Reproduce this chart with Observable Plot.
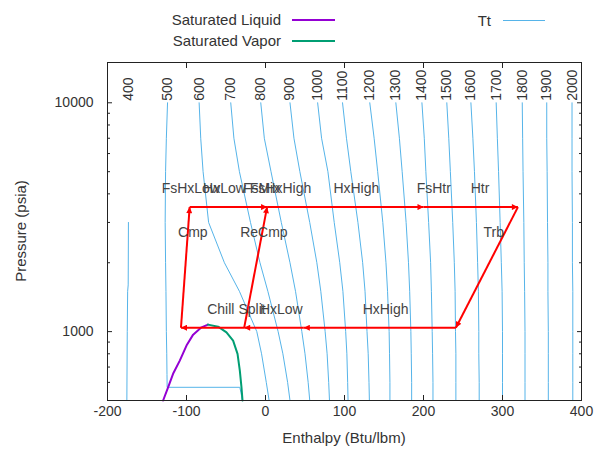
<!DOCTYPE html>
<html><head><meta charset="utf-8">
<script src="https://cdn.jsdelivr.net/npm/d3@7"></script>
<script src="https://cdn.jsdelivr.net/npm/@observablehq/plot@0.6"></script>
<style>
html,body{margin:0;padding:0;background:#fff;}
body{font-family:"Liberation Sans",Arial,sans-serif;color:#333;}
#wrap{position:relative;width:594px;height:451px;overflow:hidden;}
#legend{position:relative;width:594px;height:50px;font-size:15px;}
.lg{position:absolute;white-space:nowrap;line-height:16px;}
.sw{position:absolute;height:0;border-top:2px solid;}
#chart{position:absolute;left:0;top:50px;}
.ttl{position:absolute;font-size:15px;white-space:nowrap;}
</style></head>
<body>
<div id="wrap">
  <div id="legend"></div>
  <div id="chart"></div>
  <div class="ttl" id="xt"></div>
  <div class="ttl" id="yt"></div>
</div>
<script>
// ---------- data ----------
const xTicks = [-200, -100, 0, 100, 200, 300, 400];
const yMajor = [1000, 10000];
const yMinor = [600, 700, 800, 900, 2000, 3000, 4000, 5000, 6000, 7000, 8000, 9000];

// isotherms (deg R) : enthalpy at common pressures (psia)
const isoP = [500, 600, 800, 1000, 1500, 2000, 3000, 5000, 7000, 10000];
const isoT = [600, 700, 800, 900, 1000, 1100, 1200, 1300, 1400, 1500, 1600, 1700, 1800, 1900, 2000];
const isoH = [
  [4.6, 1, -5, -11, -33, -52, -72, -79, -82, -84],
  [31, 28, 22, 16, 3, -7, -19, -33, -40, -44],
  [56, 54, 50, 46, 38, 31, 20, 7, -1.5, -6],
  [81, 80, 78, 75.5, 70, 65, 56, 43.5, 36, 31],
  [104.5, 104, 103, 101.5, 98, 94, 87, 79, 71, 66],
  [131.5, 131, 130, 128.5, 126, 123, 117, 108, 102.5, 97.5],
  [157.5, 157.5, 157, 156.5, 154.5, 152.5, 148.5, 142, 137.5, 132],
  [185, 185, 184.5, 184, 182.5, 181, 178, 173, 169.5, 165],
  [212, 212, 211.5, 211, 210, 209, 206.5, 203, 201, 198],
  [241, 241, 241, 240.5, 240, 239, 237, 234, 232, 229.5],
  [270.5, 270.5, 270, 270, 269.5, 268.5, 267, 264.5, 262.5, 260],
  [300, 300, 300, 300, 299.5, 298.5, 297, 295, 293.5, 292],
  [328.5, 328.5, 328.5, 328.5, 328, 327.5, 327, 326, 325.5, 325],
  [358, 358, 358, 358, 357.5, 357.5, 357, 356.5, 356, 356],
  [389, 389, 389, 389, 389, 388.5, 388.5, 388, 388, 388]
];
// 400 R (liquid only, ends at 3000 psia)
const iso400P = [500, 1000, 1500, 1600, 3000];
const iso400H = [-175.5, -175, -174.5, -173.8, -173.5];
// 500 R (liquid, two-phase plateau, vapour)
const iso500P = [10000, 7000, 5000, 3000, 2000, 1500, 1000, 800, 650, 571, 571, 540, 500];
const iso500H = [-124, -125.5, -126.5, -127, -126.5, -126, -125.5, -125, -124.7, -124.5, -32.5, -31, -29.3];

// saturation dome
const satLiqH = [-129.6, -123.3, -117.0, -108.5, -100.0, -91.6, -81.0, -72.8];
const satLiqP = [500, 571, 654, 747, 869, 970, 1044, 1073];
const satVapH = [-72.8, -60.0, -49.4, -41.0, -35.4, -32.5, -30.4, -29.1];
const satVapP = [1073, 1051, 993, 913, 799, 676, 571, 500];

// cycle state points
const stateH = [-107, -96, -27, 2, 200, 319.5, 241, 48.5];
const stateP = [1040, 3500, 1040, 3500, 3500, 3500, 1040, 1040];
const segFrom = [2, 0, 1, 2, 3, 4, 5, 6, 7];
const segTo   = [0, 1, 3, 3, 4, 5, 6, 7, 2];

// component labels
const compName = ["FsHxLow", "HxLow", "FsMix", "FsHxHigh", "HxHigh", "FsHtr", "Htr", "Cmp", "ReCmp", "Trb", "Chill", "Split", "HxLow", "HxHigh"];
const compH = [-94.5, -52, -5, 19, 115, 213, 271.5, -92, -2, 289, -56.6, -17, 20, 152];
const compP = [4200, 4200, 4200, 4200, 4200, 4200, 4200, 2700, 2700, 2700, 1250, 1250, 1250, 1250];
const labelP = 10000;

// ---------- build tables ----------
const isoRows = [];
isoT.forEach((t, i) => isoP.forEach((p, j) => isoRows.push({t, h: isoH[i][j], p})));
iso400P.forEach((p, j) => isoRows.push({t: 400, h: iso400H[j], p}));
iso500P.forEach((p, j) => isoRows.push({t: 500, h: iso500H[j], p}));
const isoLabels = [{t: 400, h: iso400H[iso400H.length - 1]}, {t: 500, h: iso500H[0]}]
  .concat(isoT.map((t, i) => ({t, h: isoH[i][isoH[i].length - 1]})));
const liq = satLiqH.map((h, i) => ({h, p: satLiqP[i]}));
const vap = satVapH.map((h, i) => ({h, p: satVapP[i]}));
const segs = segFrom.map((a, i) => ({x1: stateH[a], y1: stateP[a], x2: stateH[segTo[i]], y2: stateP[segTo[i]]}));
const comps = compName.map((n, i) => ({n, h: compH[i], p: compP[i]}));

const C_LIQ = "#9400d3", C_VAP = "#009e73", C_ISO = "#56b4e9", C_TXT = "#333", C_RED = "#ff0000";
const blank = () => "";
const plain = d => String(d);

const chart = Plot.plot({
  width: 594, height: 401,
  marginLeft: 107, marginRight: 13, marginTop: 12, marginBottom: 51,
  x: {domain: [-200, 400], label: null},
  y: {type: "log", domain: [500, 15000], label: null},
  style: {fontFamily: "Liberation Sans, Arial, sans-serif", fontSize: "14px", color: C_TXT, background: "white"},
  marks: [
    Plot.line(isoRows, {x: "h", y: "p", z: "t", stroke: C_ISO, strokeWidth: 1}),
    Plot.text(isoLabels, {x: "h", y: () => labelP, text: d => String(d.t), rotate: -90, textAnchor: "start", dy: -2, fill: C_TXT, fontSize: 14}),
    Plot.line(liq, {x: "h", y: "p", stroke: C_LIQ, strokeWidth: 2}),
    Plot.line(vap, {x: "h", y: "p", stroke: C_VAP, strokeWidth: 2}),
    Plot.link(segs, {x1: "x1", y1: "y1", x2: "x2", y2: "y2", stroke: C_RED, strokeWidth: 2}),
    Plot.text(comps, {x: "h", y: "p", text: "n", fill: "#444", fontSize: 14}),
    Plot.frame({stroke: "#222"}),
    // x axis labels + inward ticks (bottom and mirrored top)
    Plot.axisX({ticks: xTicks, tickSize: 0, tickPadding: 6, tickFormat: plain, fill: C_TXT}),
    Plot.axisX({ticks: xTicks, tickSize: 5, dy: -5, tickFormat: blank, stroke: "#222"}),
    Plot.axisX({anchor: "top", ticks: xTicks, tickSize: 5, dy: 5, tickFormat: blank, stroke: "#222"}),
    // y axis labels + inward ticks (left and mirrored right)
    Plot.axisY({ticks: yMajor, tickSize: 0, tickPadding: 14, tickFormat: plain, fill: C_TXT}),
    Plot.axisY({ticks: yMajor, tickSize: 5, dx: 5, tickFormat: blank, stroke: "#222"}),
    Plot.axisY({ticks: yMinor, tickSize: 3, dx: 3, tickFormat: blank, stroke: "#222"}),
    Plot.axisY({anchor: "right", ticks: yMajor, tickSize: 5, dx: -5, tickFormat: blank, stroke: "#222"}),
    Plot.axisY({anchor: "right", ticks: yMinor, tickSize: 3, dx: -3, tickFormat: blank, stroke: "#222"})
  ]
});
// small filled arrowheads at the end of each process segment
const NS = "http://www.w3.org/2000/svg";
const defs = document.createElementNS(NS, "defs");
const mk = document.createElementNS(NS, "marker");
mk.setAttribute("id", "redhead");
mk.setAttribute("viewBox", "0 0 10 10");
mk.setAttribute("refX", "10"); mk.setAttribute("refY", "5");
mk.setAttribute("markerWidth", "8"); mk.setAttribute("markerHeight", "6");
mk.setAttribute("markerUnits", "userSpaceOnUse");
mk.setAttribute("orient", "auto");
const tri = document.createElementNS(NS, "path");
tri.setAttribute("d", "M0,0L10,5L0,10z");
tri.setAttribute("fill", C_RED);
mk.appendChild(tri); defs.appendChild(mk);
chart.insertBefore(defs, chart.firstChild);
chart.querySelectorAll('g[aria-label="link"] path').forEach(p => p.setAttribute("marker-end", "url(#redhead)"));
document.getElementById("chart").appendChild(chart);

// legend
const legendItems = [
  {name: "Saturated Liquid", color: C_LIQ, right: 281, y: 20, l1: 292, l2: 335},
  {name: "Saturated Vapor", color: C_VAP, right: 281, y: 41, l1: 292, l2: 335},
  {name: "Tt", color: C_ISO, right: 491, y: 21, l1: 503, l2: 545, thin: true}
];
const lg = document.getElementById("legend");
legendItems.forEach(it => {
  const t = document.createElement("div");
  t.className = "lg"; t.textContent = it.name;
  t.style.right = (594 - it.right) + "px"; t.style.top = (it.y - 8) + "px";
  lg.appendChild(t);
  const s = document.createElement("div");
  s.className = "sw"; s.style.borderColor = it.color;
  s.style.left = it.l1 + "px"; s.style.width = (it.l2 - it.l1) + "px";
  s.style.top = (it.y - 1) + "px";
  if (it.thin) s.style.borderTopWidth = "1px";
  lg.appendChild(s);
});
const xt = document.getElementById("xt");
xt.textContent = "Enthalpy (Btu/lbm)";
xt.style.left = "0px"; xt.style.width = "594px"; xt.style.textAlign = "center";
xt.style.top = "429px"; xt.style.paddingLeft = "94px"; xt.style.boxSizing = "border-box";
const yt = document.getElementById("yt");
yt.textContent = "Pressure (psia)";
yt.style.left = "20px"; yt.style.top = "231px";
yt.style.transform = "translate(-50%,-50%) rotate(-90deg)";
</script>
</body></html>
